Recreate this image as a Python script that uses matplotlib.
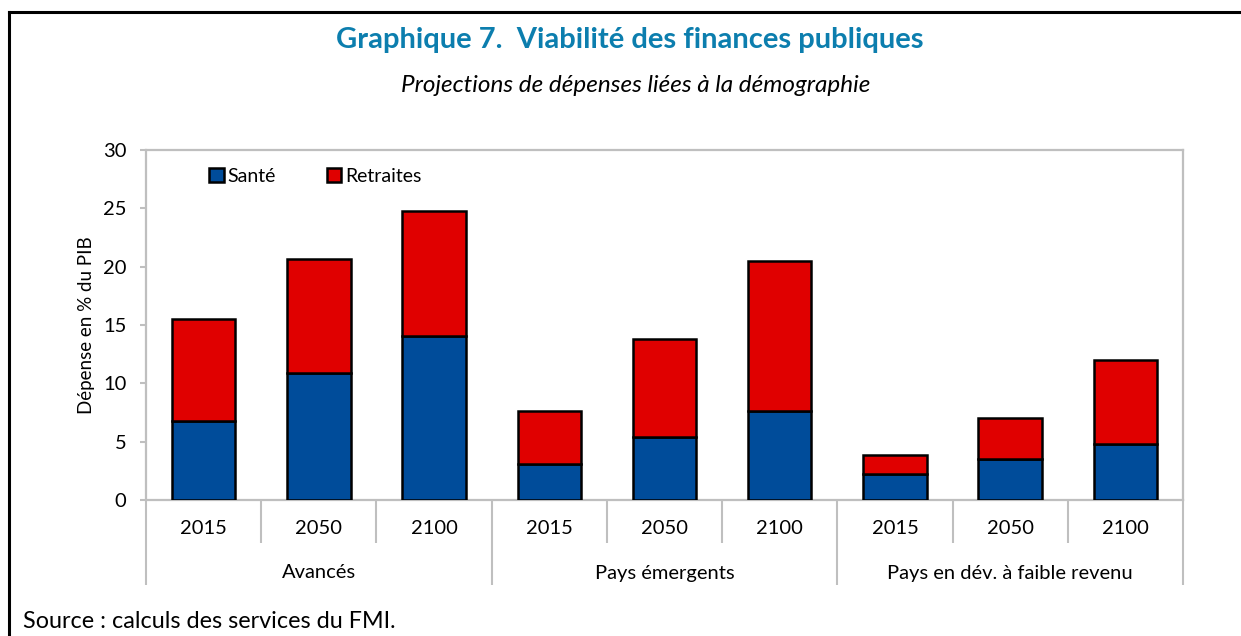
import numpy as np
import matplotlib.pyplot as plt
from matplotlib.lines import Line2D

# data (% of GDP)
groups = ['Avancés', 'Pays émergents', 'Pays en dév. à faible revenu']
years = ['2015', '2050', '2100']
sante = [6.8, 10.9, 14.1, 3.1, 5.4, 7.6, 2.2, 3.5, 4.8]
retraites = [8.7, 9.8, 10.7, 4.5, 8.4, 12.9, 1.7, 3.5, 7.2]

W, H = 1241, 636
BLUE = '#004C9A'
RED = '#E00000'
GREY = '#BFBFBF'
FONT = 'Lato'

plt.rcParams['font.family'] = [FONT, 'DejaVu Sans']

fig = plt.figure(figsize=(W / 100, H / 100), dpi=100)
ax = fig.add_axes([146 / W, (H - 500) / H, (1183 - 146) / W, 350 / H])

x = np.arange(len(sante))
ax.bar(x, sante, width=0.55, color=BLUE, edgecolor='black', linewidth=1.8, label='Santé', zorder=3)
ax.bar(x, retraites, bottom=sante, width=0.55, color=RED, edgecolor='black', linewidth=1.8,
       label='Retraites', zorder=3)

ax.set_xlim(-0.5, len(sante) - 0.5)
ax.set_ylim(0, 30)
ax.set_yticks(range(0, 31, 5))
ax.tick_params(axis='y', direction='out', length=4, width=1.5, color=GREY, labelsize=14.5, pad=10)
for s in ax.spines.values():
    s.set_color(GREY)
    s.set_linewidth(1.6)

# category separators drawn as ticks below the axis
n_grp = len(groups)
n_yr = len(years)
ax.set_xticks([i * n_yr - 0.5 for i in range(n_grp + 1)])
ax.set_xticks([i - 0.5 for i in range(len(sante) + 1) if i % n_yr != 0], minor=True)
ax.tick_params(axis='x', which='major', direction='out', length=61, width=1.5, color=GREY, labelbottom=False)
ax.tick_params(axis='x', which='minor', direction='out', length=31, width=1.5, color=GREY, labelbottom=False)

trans = ax.get_xaxis_transform()
for i in range(len(sante)):
    ax.text(i, -28 / 350, years[i % n_yr], transform=trans, ha='center', va='center', fontsize=14.5)
for g, name in enumerate(groups):
    ax.text(g * n_yr + 1, -73 / 350, name, transform=trans, ha='center', va='center', fontsize=14.5)

ax.set_ylabel('Dépense en % du PIB', fontsize=13.5, labelpad=5.5)

leg = ax.legend(loc='upper left', bbox_to_anchor=(0.044, 1.0), ncol=2, frameon=False, fontsize=14,
                handlelength=0.75, handleheight=0.75, handletextpad=0.2, columnspacing=2.6)

fig.text(630 / W, 1 - 40 / H, 'Graphique 7.  Viabilité des finances publiques', ha='center', va='center',
         fontsize=21, fontweight='bold', color='#0C7EAE')
fig.text(636 / W, 1 - 85 / H, 'Projections de dépenses liées à la démographie', ha='center', va='center',
         fontsize=17.5, style='italic')
fig.text(23 / W, 1 - 621 / H, 'Source : calculs des services du FMI.', ha='left', va='center', fontsize=16.8)

# black frame around the chart (left and top edges)
fig.add_artist(Line2D([9 / W, 9 / W], [0, 1 - 12 / H], color='black', linewidth=2.2, transform=fig.transFigure))
fig.add_artist(Line2D([9 / W, 1], [1 - 12 / H, 1 - 12 / H], color='black', linewidth=2.2,
                      transform=fig.transFigure))

fig.savefig('out.png', dpi=100)
